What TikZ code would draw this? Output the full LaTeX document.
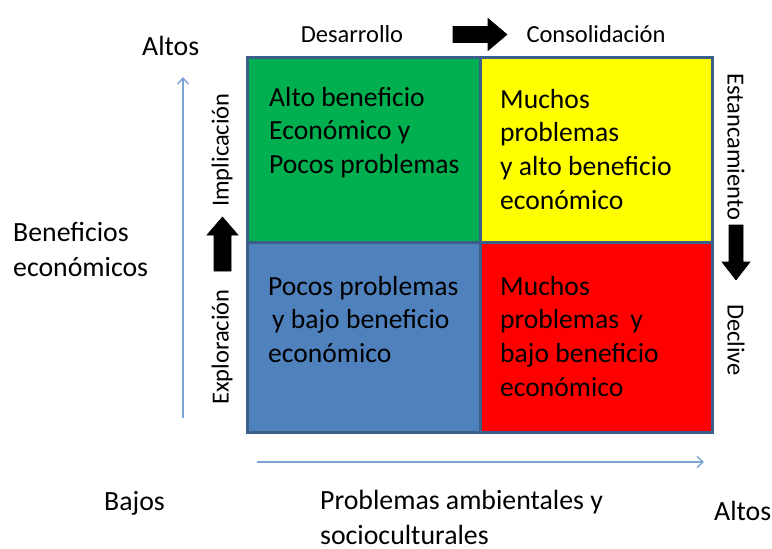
\documentclass[tikz,border=0pt]{standalone}
\usepackage{fontspec}
\setmainfont{Carlito}
\usetikzlibrary{arrows.meta}
\begin{document}
\begin{tikzpicture}[x=1pt,y=-1pt,
  quadtext/.style={anchor=north west,inner sep=0pt,align=left,font=\fontsize{27.6}{33.6}\selectfont},
  outertext/.style={anchor=north west,inner sep=0pt,align=left,font=\fontsize{27.8}{35}\selectfont},
  sidetext/.style={inner sep=0pt,font=\fontsize{24.5}{29}\selectfont},
  gridline/.style={draw=gridblue,line width=3pt},
  axisline/.style={draw=axisblue,line width=1.6pt,-{Straight Barb[length=6pt,width=11pt,line width=1.4pt]}},
  fatarrow/.style={fill=black,draw=black,line width=0.6pt,line join=miter}
]
\useasboundingbox (0,0) rectangle (772,549);
\definecolor{qgreen}{HTML}{00B050}
\definecolor{qyellow}{HTML}{FFFF00}
\definecolor{qblue}{HTML}{4F81BD}
\definecolor{qred}{HTML}{FF0000}
\definecolor{gridblue}{HTML}{3A5F8B}
\definecolor{axisblue}{HTML}{7BA3D3}

% quadrants
\fill[qgreen] (247,57) rectangle (480,242);
\fill[qyellow] (480,57) rectangle (712,242);
\fill[qblue] (247,242) rectangle (480,432);
\fill[qred] (480,242) rectangle (712,432);
\draw[gridline] (247,57) rectangle (712,432);
\draw[gridline] (480,57) -- (480,432);
\draw[gridline] (247,242) -- (712,242);

% quadrant texts
\node[quadtext] (tl) at (269,87) {Alto beneficio\\Económico y\\Pocos problemas};
\node[quadtext] (tr) at (500,89) {Muchos\\problemas\\y alto beneficio\\económico};
\node[quadtext] (bl) at (268,276) {Pocos problemas\\\hspace*{4pt}y bajo beneficio\\económico};
\node[quadtext] (br) at (500,276) {Muchos\\problemas\hspace*{5pt} y\\bajo beneficio\\económico};

% axes
\coordinate (vstart) at (183,418);
\coordinate (vend) at (183,77);
\coordinate (hstart) at (257,462);
\coordinate (hend) at (704,462);
\draw[axisline] (vstart) -- (vend);
\draw[axisline] (hstart) -- (hend);

% outer labels
\node[outertext] (altosl) at (142,36) {Altos};
\node[outertext] (benef) at (13,222) {Beneficios\\económicos};
\node[outertext] (bajos) at (104,491) {Bajos};
\node[outertext] (probl) at (320,490) {Problemas ambientales y};
\node[outertext] (socio) at (320,525) {socioculturales};
\node[outertext] (altosr) at (714,501) {Altos};

% top and side labels
\node[sidetext] (desa) at (352,34) {Desarrollo};
\node[sidetext] (cons) at (596,34) {Consolidación};
\node[sidetext,rotate=90] (impl) at (222,150) {Implicación};
\node[sidetext,rotate=90] (expl) at (222,347) {Exploración};
\node[sidetext,rotate=-90] (estan) at (736,147) {Estancamiento};
\node[sidetext,rotate=-90] (decl) at (736,340) {Declive};

% fat arrows
\draw[fatarrow] (453,26.5) -- (488,26.5) -- (488,18.5) -- (507,34.5) -- (488,50.5) -- (488,42.5) -- (453,42.5) -- cycle;
\draw[fatarrow] (214,271) -- (214,235) -- (207,235) -- (222.5,217) -- (238,235) -- (231,235) -- (231,271) -- cycle;
\draw[fatarrow] (729,225) -- (743,225) -- (743,262) -- (750,262) -- (736,280) -- (722,262) -- (729,262) -- cycle;
\end{tikzpicture}
\end{document}
